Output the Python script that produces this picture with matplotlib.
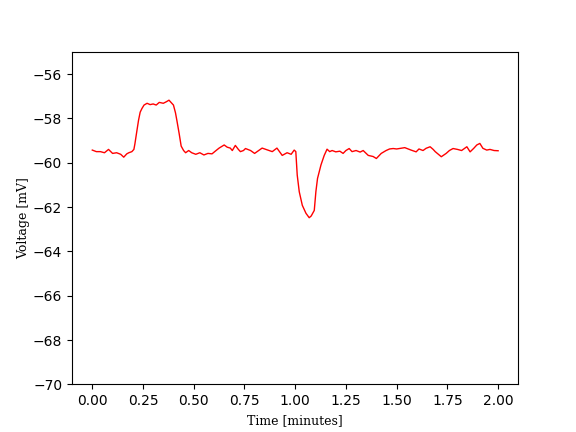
import numpy as np
import matplotlib
matplotlib.use('Agg')
import matplotlib.pyplot as plt

# time in minutes and membrane voltage in mV
time_min = [0.00, 0.02, 0.04, 0.06, 0.08, 0.10, 0.12, 0.14, 0.155, 0.17,
            0.18, 0.195, 0.205, 0.21, 0.22, 0.228, 0.236, 0.245, 0.255, 0.27,
            0.285, 0.30, 0.315, 0.33, 0.35, 0.365, 0.378, 0.39, 0.40, 0.41,
            0.417, 0.428, 0.438, 0.45, 0.46, 0.475, 0.49, 0.51, 0.53, 0.55,
            0.57, 0.59, 0.61, 0.625, 0.65, 0.665, 0.68, 0.69, 0.705, 0.72,
            0.73, 0.745, 0.755, 0.78, 0.80, 0.82, 0.837, 0.862, 0.887, 0.91,
            0.936, 0.96, 0.98, 0.995, 1.003, 1.01, 1.02, 1.035, 1.053, 1.069,
            1.079, 1.094, 1.102, 1.11, 1.127, 1.143, 1.157, 1.17, 1.182, 1.20,
            1.22, 1.236, 1.25, 1.266, 1.28, 1.30, 1.32, 1.335, 1.36, 1.384,
            1.40, 1.424, 1.448, 1.465, 1.483, 1.50, 1.52, 1.54, 1.571, 1.596,
            1.61, 1.63, 1.645, 1.665, 1.68, 1.69, 1.72, 1.744, 1.76, 1.778,
            1.80, 1.82, 1.846, 1.862, 1.88, 1.895, 1.91, 1.925, 1.944, 1.96,
            1.98, 2.00]
voltage_mv = [-59.43, -59.50, -59.50, -59.55, -59.40, -59.58, -59.55, -59.62, -59.75, -59.60,
              -59.55, -59.50, -59.40, -59.15, -58.55, -58.08, -57.72, -57.55, -57.40, -57.32,
              -57.38, -57.35, -57.40, -57.28, -57.32, -57.25, -57.18, -57.30, -57.40, -57.75,
              -58.10, -58.68, -59.25, -59.45, -59.55, -59.45, -59.55, -59.62, -59.55, -59.65,
              -59.58, -59.60, -59.45, -59.34, -59.20, -59.30, -59.34, -59.45, -59.22, -59.40,
              -59.50, -59.45, -59.36, -59.45, -59.58, -59.45, -59.34, -59.42, -59.50, -59.34,
              -59.67, -59.55, -59.62, -59.43, -59.50, -60.56, -61.31, -61.92, -62.28, -62.48,
              -62.40, -62.15, -61.30, -60.71, -60.10, -59.67, -59.39, -59.50, -59.45, -59.51,
              -59.48, -59.58, -59.45, -59.36, -59.50, -59.45, -59.52, -59.45, -59.67, -59.72,
              -59.81, -59.58, -59.45, -59.38, -59.36, -59.38, -59.35, -59.32, -59.43, -59.51,
              -59.38, -59.45, -59.35, -59.28, -59.40, -59.50, -59.73, -59.58, -59.45, -59.36,
              -59.40, -59.45, -59.28, -59.51, -59.35, -59.20, -59.13, -59.35, -59.43, -59.40,
              -59.45, -59.46]

fig, ax = plt.subplots(figsize=(5.76, 4.32), dpi=100)
ax.plot(time_min, voltage_mv, color='red', linewidth=1.0)
ax.set_ylim(-70, -55)
ax.set_xlabel('Time [minutes]', family='DejaVu Serif', fontsize=9)
ax.set_ylabel('Voltage [mV]', family='DejaVu Serif', fontsize=9, labelpad=2)
fig.savefig('out.png', dpi=100)
